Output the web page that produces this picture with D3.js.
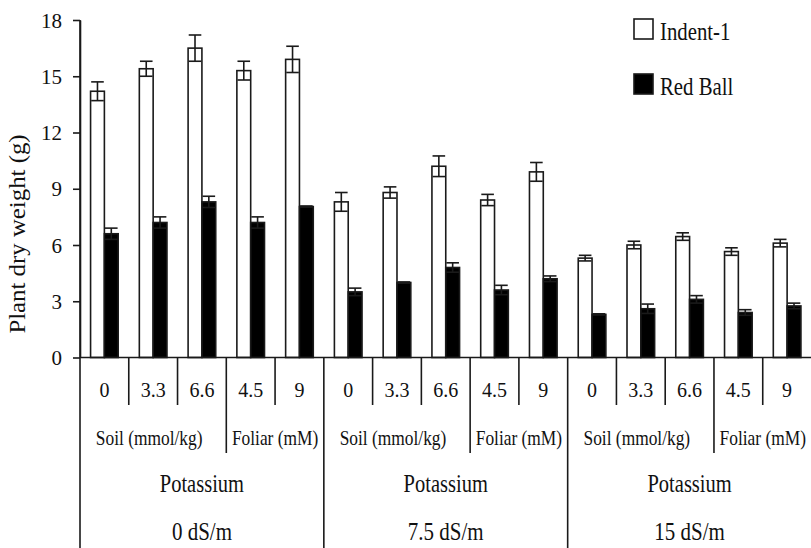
<!DOCTYPE html>
<html><head><meta charset="utf-8">
<script src="https://cdn.jsdelivr.net/npm/d3@7"></script>
<style>
body{margin:0;background:#fff}
text{font-family:"Liberation Serif","Times New Roman",serif;fill:#111}
</style>
</head><body><svg id="c" width="811" height="548"></svg>
<script>
const salinity = ["0 dS/m","7.5 dS/m","15 dS/m"];
const doses = ["0","3.3","6.6","4.5","9"];
const methods = ["Soil (mmol/kg)","Foliar (mM)"];
const methodOfDose = [0,0,0,1,1];
const factorLabel = "Potassium";
const seriesNames = ["Indent-1","Red Ball"];
const indent    = [14.2,15.4,16.5,15.3,15.9, 8.3,8.8,10.2,8.4,9.9, 5.3,6.0,6.45,5.65,6.1];
const indentErr = [0.5,0.4,0.7,0.5,0.7, 0.5,0.3,0.55,0.3,0.5, 0.15,0.2,0.2,0.2,0.2];
const redBall    = [6.6,7.2,8.3,7.2,8.05, 3.5,4.0,4.8,3.6,4.2, 2.3,2.6,3.1,2.4,2.75];
const redBallErr = [0.3,0.3,0.3,0.3,0.03, 0.2,0.03,0.25,0.25,0.15, 0.03,0.25,0.2,0.15,0.15];
const yTicks = [0,3,6,9,12,15,18];
const yTitle = "Plant dry weight (g)";

(function(){
const svg = d3.select("#c");
const L = 80, R = 811.5, base = 357.5, T = 20, B = 548;
const y = d3.scaleLinear().domain([0,18]).range([base, T]);
const x0 = d3.scaleBand().domain(salinity).range([L, R]);
const x1 = d3.scaleBand().domain(doses).range([0, x0.bandwidth()]);
const x2 = d3.scaleBand().domain(seriesNames).range([0, x1.bandwidth()]).paddingInner(0).paddingOuter(0.765);

const rows = [];
salinity.forEach((s, gi) => doses.forEach((d, di) => {
  const i = gi*doses.length + di;
  rows.push({s, d, series: seriesNames[0], v: indent[i], e: indentErr[i]});
  rows.push({s, d, series: seriesNames[1], v: redBall[i], e: redBallErr[i]});
}));
const fills = {"Indent-1":"#fff","Red Ball":"#000"};

// bars
const bx = r => x0(r.s) + x1(r.d) + x2(r.series);
svg.append("g").selectAll("rect").data(rows).join("rect")
  .attr("x", bx).attr("width", x2.bandwidth())
  .attr("y", r => y(r.v)).attr("height", r => base - y(r.v))
  .attr("fill", r => fills[r.series]).attr("stroke", "#1a1a1a").attr("stroke-width", 1.6);

// error bars
const eg = svg.append("g").attr("stroke", "#1a1a1a").attr("stroke-width", 1.6);
rows.forEach(r => {
  const cx = bx(r) + x2.bandwidth()/2, hw = 6.3;
  eg.append("line").attr("x1", cx).attr("x2", cx).attr("y1", y(r.v - r.e)).attr("y2", y(r.v + r.e));
  eg.append("line").attr("x1", cx-hw).attr("x2", cx+hw).attr("y1", y(r.v + r.e)).attr("y2", y(r.v + r.e));
  eg.append("line").attr("x1", cx-hw).attr("x2", cx+hw).attr("y1", y(r.v - r.e)).attr("y2", y(r.v - r.e));
});

// y axis
const ya = svg.append("g").attr("transform", `translate(${L},0)`)
  .call(d3.axisLeft(y).tickValues(yTicks).tickSize(7).tickSizeOuter(0).tickPadding(11));
ya.selectAll("path,line").attr("stroke", "#1a1a1a").attr("stroke-width", 1.6);
ya.selectAll("text").attr("font-size", 21).attr("font-family", "Liberation Serif").attr("fill", "#111").attr("dy", "0.34em");

const lg = svg.append("g").attr("stroke", "#1a1a1a").attr("stroke-width", 1.6);
// baseline
lg.append("line").attr("x1", L).attr("x2", R).attr("y1", base).attr("y2", base);
// group boundaries
salinity.forEach(s => lg.append("line").attr("x1", x0(s)).attr("x2", x0(s)).attr("y1", s === salinity[0] ? T : base).attr("y2", B));
// category separators
salinity.forEach(s => doses.forEach((d, k) => {
  if (k === 0) return;
  const x = x0(s) + x1(d);
  const yb = methodOfDose[k] !== methodOfDose[k-1] ? 453 : 405;
  lg.append("line").attr("x1", x).attr("x2", x).attr("y1", base).attr("y2", yb);
}));

// condensed text helper: narrow serif like the original
const ctext = (g, x, yy, size, f, str, anchor) => g.append("text")
  .attr("transform", `translate(${x},${yy}) scale(${f},1)`)
  .attr("text-anchor", anchor || "middle").attr("font-size", size).text(str);

const tg = svg.append("g").attr("text-anchor", "middle");
// dose labels
salinity.forEach(s => doses.forEach(d => {
  tg.append("text").attr("x", x0(s) + x1(d) + x1.bandwidth()/2).attr("y", 396.5).attr("font-size", 20).text(d);
}));
// method labels
salinity.forEach(s => methods.forEach((m, mi) => {
  const idx = doses.filter((d, k) => methodOfDose[k] === mi);
  const a = x0(s) + x1(idx[0]), b = x0(s) + x1(idx[idx.length-1]) + x1.bandwidth();
  ctext(tg, (a+b)/2 - (mi===0?4:0), 445, 22, 0.79, m);
}));
// factor & salinity labels
salinity.forEach(s => {
  const cx = x0(s) + x0.bandwidth()/2;
  ctext(tg, cx, 492, 25, 0.82, factorLabel);
  ctext(tg, cx, 540, 25, 0.84, s);
});

// y title
svg.append("text")
  .attr("transform", "translate(25,234) rotate(-90) scale(1.08,1)").attr("text-anchor", "middle")
  .attr("font-size", 23).text(yTitle);

// legend
const leg = svg.append("g");
seriesNames.forEach((n, i) => {
  const yy = 19 + i*55;
  leg.append("rect").attr("x", 634).attr("y", yy).attr("width", 19).attr("height", 20)
    .attr("fill", fills[n]).attr("stroke", "#1a1a1a").attr("stroke-width", 1.6);
  ctext(leg, 660, yy + 20.5, 26, 0.8, n, "start");
});
})();
</script>
</body></html>
